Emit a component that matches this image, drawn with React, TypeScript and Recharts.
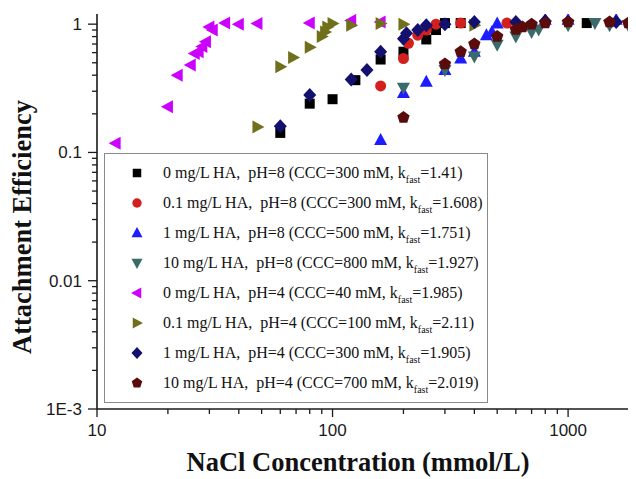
import React from 'react';
import { ScatterChart, Scatter, XAxis, YAxis, Legend } from 'recharts';

// ---------- data (NaCl mM, attachment efficiency) ----------
const s1x = [60, 80, 100, 125, 160, 200, 250, 275, 300, 350, 1200];
const s1y = [0.142, 0.24, 0.26, 0.366, 0.53, 0.61, 0.76, 0.9, 1.02, 1.02, 1.02];

const s2x = [160, 200, 210, 230, 250, 275, 350, 550];
const s2y = [0.33, 0.54, 0.71, 0.82, 0.9, 1.0, 1.02, 1.02];

const s3x = [160, 200, 250, 300, 350, 400, 450, 475, 500, 800, 1000, 1600];
const s3y = [0.125, 0.29, 0.355, 0.44, 0.54, 0.61, 0.82, 0.87, 1.01, 1.08, 1.08, 1.08];

const s4x = [200, 300, 400, 500, 600, 700, 750, 1000, 1300, 1500, 1800];
const s4y = [0.32, 0.44, 0.56, 0.69, 0.8, 0.87, 0.91, 0.98, 1.02, 0.98, 0.98];

const s5x = [12, 20, 22, 25, 26, 27, 28, 29, 30, 31, 35, 40, 48, 80, 120, 160];
const s5y = [0.118, 0.227, 0.4, 0.48, 0.59, 0.61, 0.67, 0.73, 0.95, 0.9, 1.02, 1.0, 1.01, 1.02, 1.07, 1.04];

const s6x = [48, 60, 68, 80, 90, 93, 95, 100, 120, 160, 200, 400];
const s6y = [0.158, 0.465, 0.55, 0.66, 0.8, 0.87, 0.95, 1.01, 0.98, 1.01, 1.0, 0.98];

const s7x = [60, 80, 120, 140, 160, 200, 206, 230, 250, 300, 400, 600, 800, 1600];
const s7y = [0.16, 0.28, 0.37, 0.44, 0.61, 0.77, 0.85, 0.9, 0.98, 1.0, 1.04, 1.04, 1.06, 1.04];

const s8x = [200, 300, 350, 400, 500, 600, 640, 700, 800, 1000, 1500, 1800];
const s8y = [0.187, 0.49, 0.61, 0.7, 0.8, 0.91, 0.95, 1.0, 1.02, 1.04, 1.04, 1.02];

// ---------- legend text parts ----------
const haConc = ['0', '0.1', '1', '10', '0', '0.1', '1', '10'];
const phVals = ['8', '8', '8', '8', '4', '4', '4', '4'];
const cccVals = ['300', '300', '500', '800', '40', '100', '300', '700'];
const kfastVals = ['1.41', '1.608', '1.751', '1.927', '1.985', '2.11', '1.905', '2.019'];

// ---------- tick values ----------
const xTicks = [10, 20, 30, 40, 50, 60, 70, 80, 90, 100, 200, 300, 400, 500, 600, 700, 800, 900, 1000, 2000];
const xMajor = [10, 100, 1000];
const xMajorLabels = ['10', '100', '1000'];
const yTicks = [
  0.001, 0.002, 0.003, 0.004, 0.005, 0.006, 0.007, 0.008, 0.009,
  0.01, 0.02, 0.03, 0.04, 0.05, 0.06, 0.07, 0.08, 0.09,
  0.1, 0.2, 0.3, 0.4, 0.5, 0.6, 0.7, 0.8, 0.9, 1,
];
const yMajor = [0.001, 0.01, 0.1, 1];
const yMajorLabels = ['1E-3', '0.01', '0.1', '1'];

const colors = ['#000000', '#d41f1f', '#1c1cff', '#3b6a6a', '#cc00ff', '#6f6f1c', '#13106e', '#5a0b0b'];
const shapes = ['square', 'circle', 'up', 'down', 'left', 'right', 'diamond', 'pentagon'];

const xsList = [s1x, s2x, s3x, s4x, s5x, s6x, s7x, s8x];
const ysList = [s1y, s2y, s3y, s4y, s5y, s6y, s7y, s8y];

const seriesData = xsList.map((xs, i) => xs.map((x, j) => ({ x, y: ysList[i][j] })));

function Marker({ kind, cx, cy, color, s = 1 }: { kind: string; cx: number; cy: number; color: string; s?: number }) {
  const pts = (arr: number[][]) => arr.map(([a, b]) => `${cx + a * s},${cy + b * s}`).join(' ');
  switch (kind) {
    case 'square':
      return <rect x={cx - 5 * s} y={cy - 5 * s} width={10 * s} height={10 * s} fill={color} />;
    case 'circle':
      return <circle cx={cx} cy={cy} r={5.5 * s} fill={color} />;
    case 'up':
      return <polygon points={pts([[0, -7], [6.5, 5], [-6.5, 5]])} fill={color} />;
    case 'down':
      return <polygon points={pts([[0, 7], [6.5, -5], [-6.5, -5]])} fill={color} />;
    case 'left':
      return <polygon points={pts([[-7, 0], [5, -6.5], [5, 6.5]])} fill={color} />;
    case 'right':
      return <polygon points={pts([[7, 0], [-5, -6.5], [-5, 6.5]])} fill={color} />;
    case 'diamond':
      return <polygon points={pts([[0, -7], [6.5, 0], [0, 7], [-6.5, 0]])} fill={color} />;
    case 'pentagon': {
      const arr: number[][] = [];
      for (let k = 0; k < 5; k++) {
        const a = -Math.PI / 2 + (k * 2 * Math.PI) / 5;
        arr.push([6.5 * Math.cos(a), 6.5 * Math.sin(a)]);
      }
      return <polygon points={pts(arr)} fill={color} />;
    }
    default:
      return null;
  }
}

const tickFont = "'Liberation Sans', Arial, sans-serif";
const serif = "'Liberation Serif', 'Times New Roman', serif";

function XTick(props: any) {
  const { x, y, payload } = props;
  const idx = xMajor.indexOf(payload.value);
  const major = idx >= 0;
  return (
    <g>
      <line x1={x} x2={x} y1={y} y2={y + (major ? 8 : 5)} stroke="#1a1a1a" strokeWidth={1.3} />
      {major && (
        <text x={x} y={y + 27} textAnchor="middle" fontFamily={tickFont} fontSize={17} fill="#1a1a1a">
          {xMajorLabels[idx]}
        </text>
      )}
    </g>
  );
}

function YTick(props: any) {
  const { x, y, payload } = props;
  const idx = yMajor.findIndex((v) => Math.abs(v - payload.value) / v < 1e-6);
  const major = idx >= 0;
  return (
    <g>
      <line x1={x} x2={x - (major ? 9 : 5)} y1={y} y2={y} stroke="#1a1a1a" strokeWidth={1.3} />
      {major && (
        <text x={x - 15} y={y + 6} textAnchor="end" fontFamily={tickFont} fontSize={17} fill="#1a1a1a">
          {yMajorLabels[idx]}
        </text>
      )}
    </g>
  );
}

function renderLegend() {
  return (
    <svg width={384} height={250} style={{ display: 'block' }}>
      <rect x={0.5} y={0.5} width={383} height={249} fill="#fff" stroke="#8a8a8a" strokeWidth={1} />
      {colors.map((c, i) => {
        const cy = 20 + i * 30;
        return (
          <g key={i}>
            <Marker kind={shapes[i]} cx={33} cy={cy} color={c} s={0.85} />
            <text x={59} y={cy + 5} fontFamily={serif} fontSize={16} fill="#111" style={{ whiteSpace: 'pre' }}>
              {`${haConc[i]} mg/L HA,  pH=${phVals[i]} (CCC=${cccVals[i]} mM, k`}
              <tspan fontSize={10} dy={5}>fast</tspan>
              <tspan dy={-5}>{`=${kfastVals[i]})`}</tspan>
            </text>
          </g>
        );
      })}
    </svg>
  );
}

const XTitle = () => (
  <text x={358} y={471} textAnchor="middle" fontFamily={serif} fontWeight="bold" fontSize={26.5} fill="#111">
    NaCl Concentration (mmol/L)
  </text>
);

const YTitle = () => (
  <text
    x={22}
    y={227}
    textAnchor="middle"
    dominantBaseline="central"
    transform="rotate(-90 22 227)"
    fontFamily={serif}
    fontWeight="bold"
    fontSize={26.5}
    fill="#111"
  >
    Attachment Efficiency
  </text>
);

export default function App() {
  return (
    <div style={{ marginLeft: -8, marginTop: -8, width: 636, height: 479, overflow: 'hidden', background: '#fff' }}>
      <ScatterChart width={645} height={479} margin={{ top: 14, right: 6, bottom: 0, left: 0 }}>
        <XAxis
          type="number"
          dataKey="x"
          scale="log"
          domain={[10, 2000]}
          ticks={xTicks}
          interval={0}
          tickSize={0}
          tickMargin={0}
          tickLine={false}
          tick={<XTick />}
          height={70}
          axisLine={{ stroke: '#1a1a1a', strokeWidth: 1.6 }}
          allowDataOverflow
          label={XTitle}
        />
        <YAxis
          type="number"
          dataKey="y"
          scale="log"
          domain={[0.001, 1.2]}
          ticks={yTicks}
          interval={0}
          tickSize={0}
          tickMargin={0}
          tickLine={false}
          tick={<YTick />}
          width={97}
          axisLine={{ stroke: '#1a1a1a', strokeWidth: 1.6 }}
          allowDataOverflow
          label={YTitle}
        />
        <Legend
          layout="vertical"
          align="center"
          verticalAlign="middle"
          width={384}
          height={250}
          wrapperStyle={{ left: 104, top: 153, width: 384, height: 250 }}
          content={renderLegend}
        />
        {seriesData.map((d, i) => (
          <Scatter
            key={i}
            data={d}
            isAnimationActive={false}
            fill={colors[i]}
            shape={(p: any) => <Marker kind={shapes[i]} cx={p.cx} cy={p.cy} color={colors[i]} />}
          />
        ))}
      </ScatterChart>
    </div>
  );
}
